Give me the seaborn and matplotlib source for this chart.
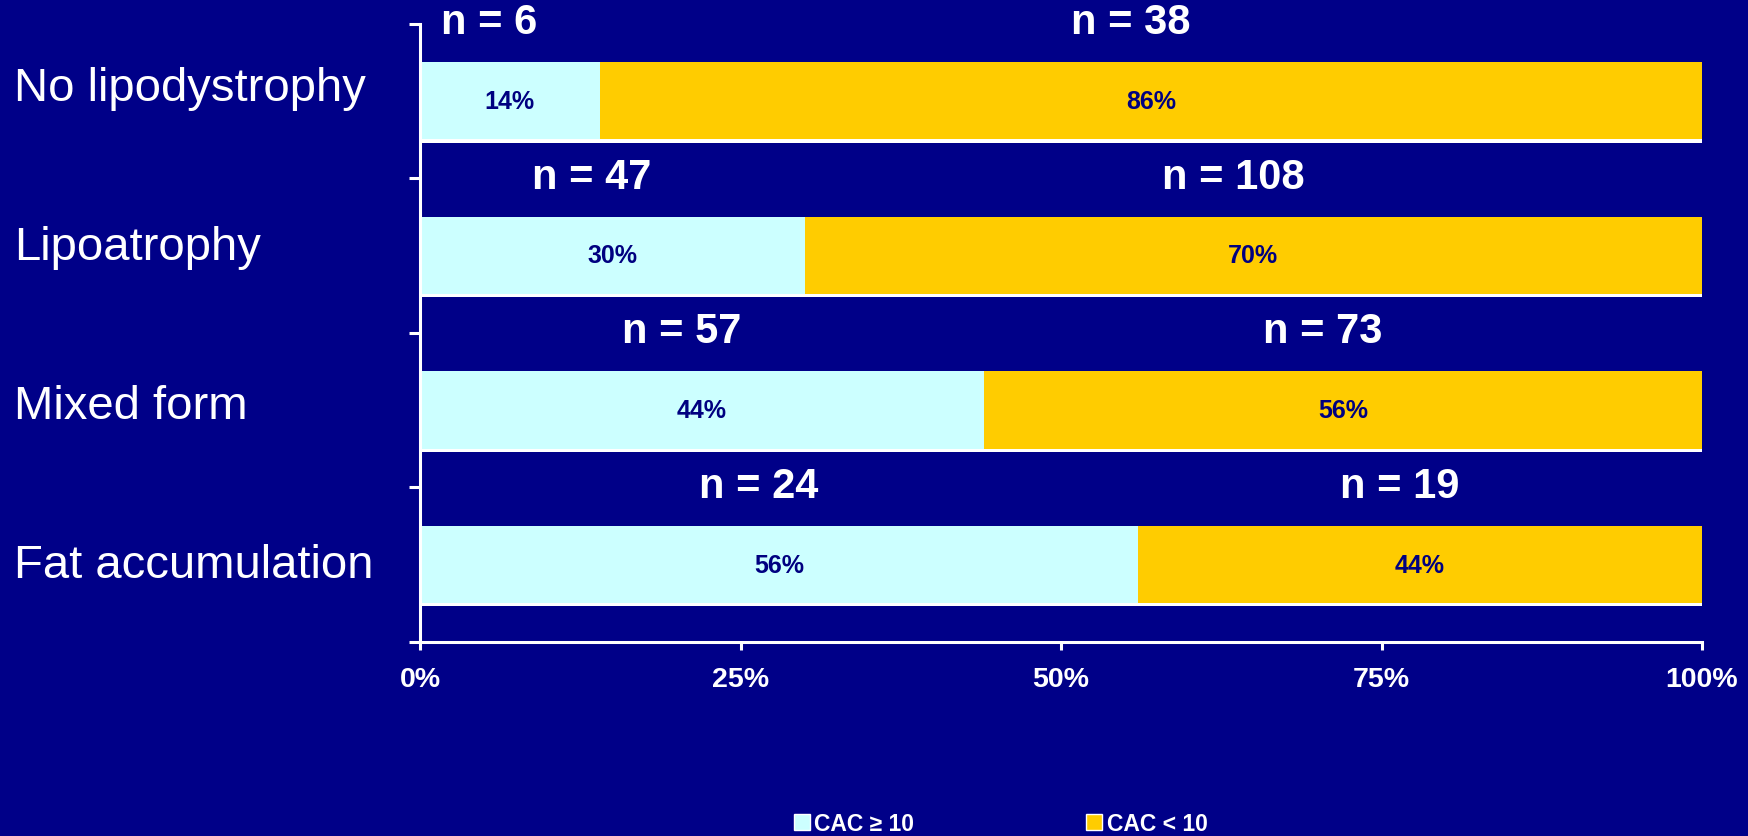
import matplotlib
matplotlib.use("Agg")
import matplotlib.pyplot as plt
import matplotlib.patheffects as pe
from matplotlib.patches import Patch
from matplotlib.transforms import blended_transform_factory
import seaborn as sns

# Lipodystrophy groups and share of patients by coronary artery calcium score
categories = ["No lipodystrophy", "Lipoatrophy", "Mixed form", "Fat accumulation"]
pct_cac_high = [14, 30, 44, 56]   # CAC >= 10, %
pct_cac_low = [86, 70, 56, 44]    # CAC < 10, %
n_cac_high = [6, 47, 57, 24]
n_cac_low = [38, 108, 73, 19]
x_ticks = [0, 25, 50, 75, 100]
x_tick_labels = ["0%", "25%", "50%", "75%", "100%"]
legend_labels = ["CAC \u2265 10", "CAC < 10"]

BG = "#000088"
CYAN = "#CCFFFF"
GOLD = "#FFCC00"
INK = "#000080"

sns.set_theme(style="white")
plt.rcParams["font.family"] = ["Liberation Sans", "DejaVu Sans"]

fig = plt.figure(figsize=(17.48, 8.37), dpi=100, facecolor=BG)
ax = fig.add_axes([0.2403, 0.2318, 0.7334, 0.7389])
ax.set_facecolor(BG)

totals = [h + l for h, l in zip(pct_cac_high, pct_cac_low)]
shadow = [pe.SimplePatchShadow(offset=(0, -2.2), shadow_rgbFace="white", alpha=1.0), pe.Normal()]

sns.barplot(x=totals, y=categories, orient="h", color=GOLD, saturation=1,
            width=0.5, ax=ax, linewidth=0)
sns.barplot(x=pct_cac_high, y=categories, orient="h", color=CYAN, saturation=1,
            width=0.5, ax=ax, linewidth=0)
for p in ax.patches:
    p.set_path_effects(shadow)

ax.set_xlim(0, 100)
ax.set_ylim(3.5, -0.5)

# Segment value labels and group sizes
for i, (h, l, nh, nl) in enumerate(zip(pct_cac_high, pct_cac_low, n_cac_high, n_cac_low)):
    ax.text(h / 2, i, f"{h}%", ha="center", va="center", color=INK,
            fontsize=18, fontweight="bold")
    ax.text(h + l / 2, i, f"{l}%", ha="center", va="center", color=INK,
            fontsize=18, fontweight="bold")
    ax.text(h / 2 - 1.6, i - 0.51, f"n = {nh}", ha="center", va="center",
            color="white", fontsize=30, fontweight="bold")
    ax.text(h + l / 2 - 1.6, i - 0.51, f"n = {nl}", ha="center", va="center",
            color="white", fontsize=30, fontweight="bold")

# Group names at the left edge of the figure, spaced slightly wider than the rows
trans = blended_transform_factory(fig.transFigure, ax.transData)
for i, name in enumerate(categories):
    ax.text(0.008, i * 1.028 - 0.084, name, transform=trans, ha="left", va="center",
            color="white", fontsize=34)

# Axes styling
for side in ["top", "right"]:
    ax.spines[side].set_visible(False)
for side in ["left", "bottom"]:
    ax.spines[side].set_color("white")
    ax.spines[side].set_linewidth(2.2)

ax.set_yticks([-0.5, 0.5, 1.5, 2.5, 3.5])
ax.set_yticklabels([])
ax.set_xticks(x_ticks)
ax.set_xticklabels(x_tick_labels)
ax.tick_params(axis="y", direction="out", length=8, width=2.2, color="white", left=True)
ax.tick_params(axis="x", direction="out", length=6, width=2.2, color="white",
               bottom=True, pad=11, labelcolor="white", labelsize=20.5)
for lab in ax.get_xticklabels():
    lab.set_fontweight("heavy")
ax.set_xlabel("")
ax.set_ylabel("")

handles = [Patch(facecolor=CYAN, edgecolor="white", linewidth=1),
           Patch(facecolor=GOLD, edgecolor="white", linewidth=1)]
leg = fig.legend(handles, legend_labels, loc="lower center", bbox_to_anchor=(0.5725, -0.023),
                 ncol=2, frameon=False, fontsize=16.5, handlelength=0.7, handleheight=0.7,
                 handletextpad=0.2, columnspacing=7.5)
for t in leg.get_texts():
    t.set_color("white")
    t.set_fontweight("heavy")

fig.savefig("out.png", dpi=100, facecolor=BG)
